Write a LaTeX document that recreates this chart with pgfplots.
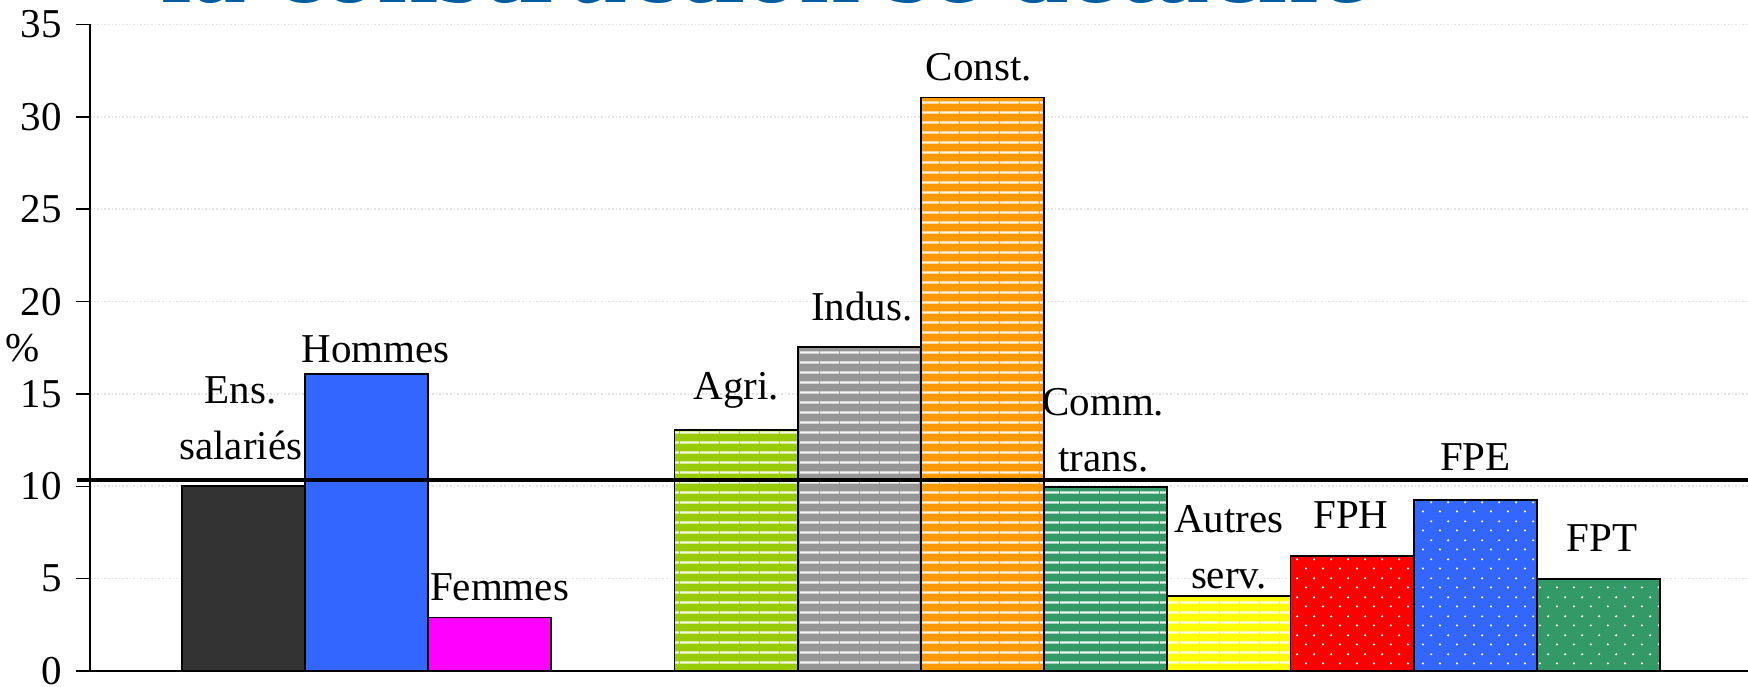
\documentclass[border=0pt]{standalone}
\usepackage{fontspec}
\setmainfont{Liberation Serif}
\usepackage{pgfplots}
\pgfplotsset{compat=1.18}
\usetikzlibrary{patterns}

\pgfdeclarepatternformonly{hstripes}{\pgfqpoint{0pt}{0pt}}{\pgfqpoint{10pt}{4.75pt}}{\pgfqpoint{10pt}{4.75pt}}{%
  \pgfsetlinewidth{1.2pt}\pgfpathmoveto{\pgfqpoint{0pt}{2.4pt}}\pgfpathlineto{\pgfqpoint{10pt}{2.4pt}}\pgfusepath{stroke}}
\pgfdeclarepatternformonly{wdots}{\pgfqpoint{0pt}{0pt}}{\pgfqpoint{8.35pt}{9.5pt}}{\pgfqpoint{8.35pt}{9.5pt}}{%
  \pgfpathcircle{\pgfqpoint{2pt}{2.4pt}}{0.6pt}\pgfpathcircle{\pgfqpoint{6.17pt}{7.15pt}}{0.6pt}\pgfusepath{fill}}

\definecolor{ensc}{HTML}{333333}
\definecolor{hommc}{HTML}{3366FF}
\definecolor{femc}{HTML}{FF00FF}
\definecolor{agric}{HTML}{99CC00}
\definecolor{indc}{HTML}{969696}
\definecolor{constc}{HTML}{FF9900}
\definecolor{commc}{HTML}{339966}
\definecolor{autc}{HTML}{FFFF00}
\definecolor{fphc}{HTML}{FF0000}
\definecolor{fpec}{HTML}{3366FF}
\definecolor{fptc}{HTML}{339966}
\definecolor{titleblue}{RGB}{0,94,160}
\definecolor{gridc}{HTML}{E3E3E3}

\newcommand{\lblfont}{\fontsize{20.5}{28}\selectfont}

\begin{document}
\begin{tikzpicture}
\begin{axis}[
  scale only axis, width=829pt, height=323.25pt,
  xmin=-0.744, xmax=12.713, ymin=0, ymax=35,
  axis x line=bottom, axis y line=left,
  axis line style={-, black, line width=0.75pt},
  xtick=\empty,
  ytick={0,5,...,35},
  tick align=outside, major tick length=7pt,
  tick style={black, line width=0.75pt},
  ymajorgrids, grid style={gridc, line width=0.8pt, densely dotted},
  /pgf/number format/assume math mode=true,
  yticklabel style={font=\lblfont, xshift=-3.5pt},
  ybar, bar width=1,
  every axis plot/.append style={bar shift=0pt, draw=black, line width=0.9pt},
  clip=false,
]
\addplot[fill=ensc] coordinates {(0.5,10.0)};
\addplot[fill=hommc] coordinates {(1.5,16.1)};
\addplot[fill=femc] coordinates {(2.5,2.9)};
\addplot[fill=agric, postaction={pattern=hstripes, pattern color=white!90!agric}] coordinates {(4.5,13.05)};
\addplot[fill=indc, postaction={pattern=hstripes, pattern color=white!90!indc}] coordinates {(5.5,17.55)};
\addplot[fill=constc, postaction={pattern=hstripes, pattern color=white!90!constc}] coordinates {(6.5,31.05)};
\addplot[fill=commc, postaction={pattern=hstripes, pattern color=white!90!commc}] coordinates {(7.5,9.95)};
\addplot[fill=autc, postaction={pattern=hstripes, pattern color=white!90!autc}] coordinates {(8.5,4.08)};
\addplot[fill=fphc, postaction={pattern=wdots, pattern color=white}] coordinates {(9.5,6.23)};
\addplot[fill=fpec, postaction={pattern=wdots, pattern color=white}] coordinates {(10.5,9.26)};
\addplot[fill=fptc, postaction={pattern=wdots, pattern color=white}] coordinates {(11.5,4.98)};
% reference line
\addplot[sharp plot, draw=black, line width=2pt, forget plot] coordinates {(-0.85,10.35) (12.713,10.35)};

\tikzset{lbl/.style={align=center, font=\lblfont, inner sep=0pt}}
\node[lbl] at (axis cs:0.48,13.7) {Ens.\\salariés};
\node[lbl] at (axis cs:1.575,17.43) {Hommes};
\node[lbl] at (axis cs:2.58,4.52) {Femmes};
\node[lbl] at (axis cs:4.50,15.2) {Agri.};
\node[lbl] at (axis cs:5.52,19.73) {Indus.};
\node[lbl] at (axis cs:6.47,32.7) {Const.};
\node[lbl] at (axis cs:7.48,13.03) {Comm.\\trans.};
\node[lbl] at (axis cs:8.50,6.69) {Autres\\serv.};
\node[lbl] at (axis cs:9.49,8.45) {FPH};
\node[lbl] at (axis cs:10.50,11.58) {FPE};
\node[lbl] at (axis cs:11.53,7.18) {FPT};
\node[lbl] at (axis cs:-1.294,17.5) {\%};
\node[anchor=base, font=\fontsize{55}{60}\selectfont\bfseries, text=titleblue, inner sep=0pt]
  at ([yshift=11pt]axis cs:4.73,35) {la construction se détache};
\coordinate (bl) at (rel axis cs:0,0);
\coordinate (tr) at (rel axis cs:1,1);
\end{axis}
\pgfresetboundingbox
\path[use as bounding box] ([xshift=-45pt,yshift=-7.5pt]bl) rectangle ([yshift=12.25pt]tr);
\end{tikzpicture}
\end{document}
